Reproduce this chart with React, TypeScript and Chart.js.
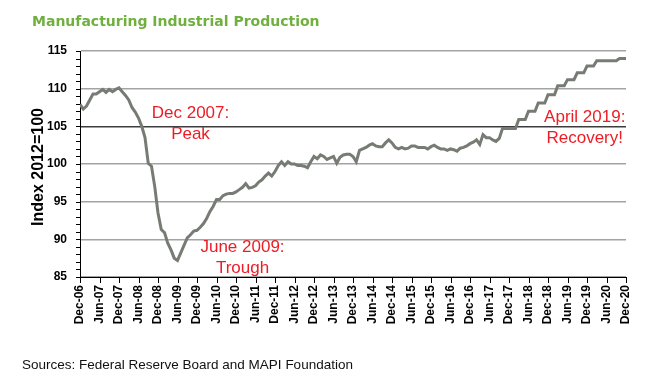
import React, { useEffect, useRef } from "react";
import { Chart, registerables } from "chart.js";

Chart.register(...registerables);

// Monthly index values, Dec-2006 (index 0) .. Dec-2020 (index 168)
const production: number[] = [
  107.9, 107.3, 107.7, 108.5, 109.3, 109.3, 109.6, 109.9, 109.5, 109.9, 109.6, 109.9,
  110.1, 109.6, 109.1, 108.5, 107.5, 106.9, 106.1, 105.0, 103.5, 100.1, 99.7, 97.0,
  93.5, 91.3, 90.9, 89.5, 88.6, 87.5, 87.2, 88.2, 89.2, 90.2, 90.6, 91.1,
  91.2, 91.6, 92.1, 92.8, 93.7, 94.4, 95.3, 95.3, 95.8, 96.0, 96.1, 96.1,
  96.3, 96.6, 96.9, 97.4, 96.8, 96.9, 97.1, 97.6, 97.9, 98.4, 98.8, 98.4,
  99.0, 99.8, 100.3, 99.8, 100.3, 100.0, 100.0, 99.8, 99.8, 99.7, 99.5, 100.3,
  101.0, 100.7, 101.2, 101.0, 100.6, 100.8, 101.0, 100.1, 100.9, 101.2, 101.3, 101.3,
  101.0, 100.3, 101.8, 102.0, 102.2, 102.5, 102.7, 102.4, 102.3, 102.3, 102.8, 103.2,
  102.8, 102.2, 102.0, 102.2, 102.0, 102.1, 102.4, 102.4, 102.2, 102.2, 102.2, 102.0,
  102.3, 102.5, 102.2, 102.0, 102.0, 101.8, 102.0, 101.9, 101.7, 102.1, 102.2, 102.4,
  102.7, 102.9, 103.2, 102.6, 103.9, 103.5, 103.5, 103.2, 103.0, 103.4, 104.7, 104.7,
  104.7, 104.7, 104.7, 105.9, 105.9, 105.9, 107.0, 107.0, 107.0, 108.1, 108.1, 108.1,
  109.2, 109.2, 109.2, 110.4, 110.4, 110.4, 111.2, 111.2, 111.2, 112.1, 112.1, 112.1,
  113.0, 113.0, 113.0, 113.7, 113.7, 113.7, 113.7, 113.7, 113.7, 113.7, 114.0, 114.0,
  114.0,
];

const tickLabels: string[] = [
  "Dec-06", "Jun-07", "Dec-07", "Jun-08", "Dec-08", "Jun-09", "Dec-09", "Jun-10",
  "Dec-10", "Jun-11", "Dec-11", "Jun-12", "Dec-12", "Jun-13", "Dec-13", "Jun-14",
  "Dec-14", "Jun-15", "Dec-15", "Jun-16", "Dec-16", "Jun-17", "Dec-17", "Jun-18",
  "Dec-18", "Jun-19", "Dec-19", "Jun-20", "Dec-20",
];

const yTickValues: number[] = [85, 90, 95, 100, 105, 110, 115];

const titleText = "Manufacturing Industrial Production";
const yAxisTitle = "Index 2012=100";
const sourceText = "Sources: Federal Reserve Board and MAPI Foundation";

const noteLines: string[][] = [
  ["Dec 2007:", "Peak"],
  ["June 2009:", "Trough"],
  ["April 2019:", "Recovery!"],
];
// anchor (month index, value) of each note's first line
const noteMonths: number[] = [34, 50, 155.3];
const noteValues: number[] = [106.75, 88.95, 106.2];

const tickMarkPlugin = {
  id: "tickMarkPlugin",
  afterDraw(chart: any) {
    const ctx = chart.ctx as CanvasRenderingContext2D;
    const xs = chart.scales.x;
    const ys = chart.scales.y;
    const area = chart.chartArea;
    ctx.save();
    ctx.strokeStyle = "#000";
    ctx.lineWidth = 1;
    ctx.beginPath();
    ys.ticks.forEach((t: any) => {
      const y = Math.round(ys.getPixelForValue(t.value)) + 0.5;
      ctx.moveTo(area.left - 4, y);
      ctx.lineTo(area.left, y);
    });
    xs.ticks.forEach((t: any) => {
      const x = Math.round(xs.getPixelForValue(t.value)) + 0.5;
      ctx.moveTo(x, area.bottom);
      ctx.lineTo(x, area.bottom + 6);
    });
    ctx.stroke();
    ctx.restore();
  },
};

const textPlugin = {
  id: "textPlugin",
  afterDraw(chart: any) {
    const ctx = chart.ctx as CanvasRenderingContext2D;
    const xs = chart.scales.x;
    const ys = chart.scales.y;
    ctx.save();
    // title
    ctx.fillStyle = "#6FB03F";
    ctx.font = "bold 14px 'DejaVu Sans'";
    ctx.textAlign = "left";
    ctx.textBaseline = "middle";
    ctx.fillText(titleText, 32, 22);

    // y axis title
    ctx.save();
    ctx.translate(39, 167);
    ctx.rotate(-Math.PI / 2);
    ctx.fillStyle = "#000";
    ctx.font = "bold 16px 'Liberation Sans', Arial, sans-serif";
    ctx.textAlign = "center";
    ctx.textBaseline = "middle";
    ctx.fillText(yAxisTitle, 0, 0);
    ctx.restore();

    // notes
    ctx.fillStyle = "#EE1C25";
    ctx.font = "17px 'Liberation Sans', Arial, sans-serif";
    ctx.textAlign = "center";
    ctx.textBaseline = "middle";
    noteLines.forEach((lines, k) => {
      const px = xs.getPixelForValue(noteMonths[k]);
      const py = ys.getPixelForValue(noteValues[k]);
      lines.forEach((ln, j) => ctx.fillText(ln, px, py + j * 21.5));
    });

    // source
    ctx.fillStyle = "#111";
    ctx.font = "13.5px 'Liberation Sans', Arial, sans-serif";
    ctx.textAlign = "left";
    ctx.fillText(sourceText, 22, 365);
    ctx.restore();
  },
};

export default function App() {
  const ref = useRef<HTMLCanvasElement | null>(null);
  useEffect(() => {
    if (!ref.current) return;
    const chart = new Chart(ref.current, {
      type: "line",
      data: {
        datasets: [
          {
            data: production.map((v, i) => ({ x: i, y: v })),
            borderColor: "#767C74",
            borderWidth: 3,
            pointRadius: 0,
            tension: 0,
            fill: false,
          },
        ],
      },
      options: {
        responsive: false,
        animation: false,
        layout: { padding: { left: 0, top: 51, right: 31, bottom: 0 } },
        plugins: { legend: { display: false }, tooltip: { enabled: false }, title: { display: false } },
        scales: {
          x: {
            type: "linear",
            min: 0,
            max: 168,
            afterFit: (s: any) => {
              s.height = 115;
            },
            ticks: {
              stepSize: 6,
              autoSkip: false,
              maxRotation: 90,
              minRotation: 90,
              padding: 8,
              color: "#000",
              font: { family: "'Liberation Sans', Arial, sans-serif", size: 12, weight: "bold" },
              callback: (v: any) => tickLabels[Math.round(Number(v) / 6)] ?? "",
            },
            grid: { drawOnChartArea: false, drawTicks: false },
            border: { color: "#000", width: 1 },
          },
          y: {
            min: 85,
            max: 115,
            afterFit: (s: any) => {
              s.width = 80;
            },
            ticks: {
              stepSize: 1,
              autoSkip: false,
              padding: 13,
              color: "#000",
              font: { family: "'Liberation Sans', Arial, sans-serif", size: 12, weight: "bold" },
              callback: (v: any) => (yTickValues.includes(Number(v)) ? String(v) : ""),
            },
            grid: {
              color: (c: any) => {
                const v = c.tick ? c.tick.value : 0;
                if (!yTickValues.includes(v)) return "rgba(0,0,0,0)";
                return v === 105 ? "#3C3C3C" : "#A3A3A3";
              },
              lineWidth: 1.5,
              drawTicks: false,
            },
            border: { color: "#000", width: 1 },
          },
        },
      },
      plugins: [tickMarkPlugin, textPlugin],
    });
    return () => chart.destroy();
  }, []);
  return (
    <div style={{ position: "fixed", left: 0, top: 0, width: 657, height: 392, background: "#fff" }}>
      <canvas ref={ref} width={657} height={392} style={{ display: "block" }} />
    </div>
  );
}
